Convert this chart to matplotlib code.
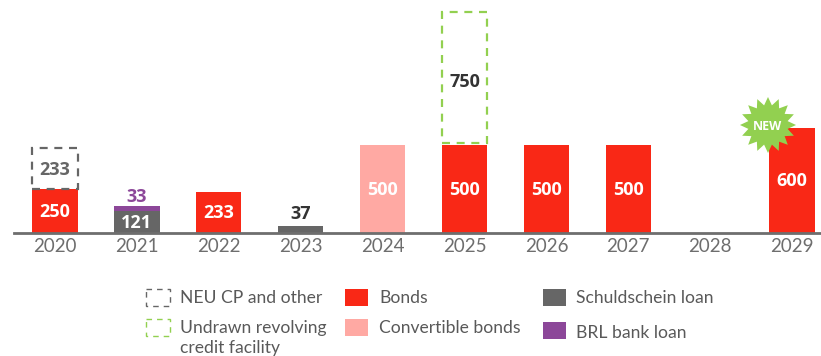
import matplotlib
matplotlib.use("Agg")
import matplotlib.pyplot as plt
import matplotlib.patches as patches
import numpy as np

plt.rcParams['font.family'] = ['Lato', 'DejaVu Sans']

years = ['2020', '2021', '2022', '2023', '2024', '2025', '2026', '2027', '2028', '2029']
bonds = [250, 0, 233, 0, 0, 500, 500, 500, 0, 600]
convertible = [0, 0, 0, 0, 500, 0, 0, 0, 0, 0]
schuldschein = [0, 121, 0, 37, 0, 0, 0, 0, 0, 0]
brl_loan = [0, 33, 0, 0, 0, 0, 0, 0, 0, 0]
neu_cp = [233, 0, 0, 0, 0, 0, 0, 0, 0, 0]
undrawn_rcf = [0, 0, 0, 0, 0, 750, 0, 0, 0, 0]

RED = '#F92816'
PINK = '#FFA9A3'
GRAY = '#666666'
PURPLE = '#8C4799'
GREEN = '#92D050'
DARK = '#333333'
TICK = '#6E6E6E'
LEGEND_TEXT = '#595959'

W, H = 821, 356
BASE = 232.5
VALUE_SIZE = 13

fig = plt.figure(figsize=(W / 100, H / 100), dpi=100)
ax = fig.add_axes([14 / W, 1 - BASE / H, 1 - 14 / W, BASE / H])
ax.set_xlim(-0.5, 9.353)
ax.set_ylim(0, BASE / 0.175)

x = np.arange(len(years))
bw = 0.555
bonds_a = np.array(bonds)
conv_a = np.array(convertible)
sch_a = np.array(schuldschein)
brl_a = np.array(brl_loan)
neu_a = np.array(neu_cp)
rcf_a = np.array(undrawn_rcf)

ax.bar(x, bonds_a, bw, color=RED)
ax.bar(x, conv_a, bw, color=PINK)
ax.bar(x, sch_a, bw, color=GRAY)
ax.bar(x, brl_a, bw, bottom=sch_a, color=PURPLE)

def value(xpos, ypos, val, color):
    ax.text(xpos, ypos, str(val), color=color, fontsize=VALUE_SIZE, family='Open Sans',
            fontweight='bold', ha='center', va='center')

# undrawn amounts are dashed outlines sitting on top of the bonds
dash = (0, (3.6, 3.0))
for i in np.nonzero(neu_a)[0]:
    ax.add_patch(patches.Rectangle((x[i] - bw / 2, bonds_a[i]), bw, neu_a[i], fill=False,
                                   ec=GRAY, lw=1.6, ls=dash))
    value(x[i], bonds_a[i] + neu_a[i] / 2 - 12, neu_a[i], GRAY)
for i in np.nonzero(rcf_a)[0]:
    ax.add_patch(patches.Rectangle((x[i] - bw / 2, bonds_a[i] + 10), bw, rcf_a[i], fill=False,
                                   ec=GREEN, lw=1.6, ls=dash))
    value(x[i], bonds_a[i] + 10 + rcf_a[i] / 2 - 25, rcf_a[i], DARK)

for i in range(len(years)):
    if bonds_a[i]:
        value(x[i], bonds_a[i] / 2 - 6, bonds_a[i], 'white')
    if conv_a[i]:
        value(x[i], conv_a[i] / 2 - 6, conv_a[i], 'white')

value(x[1], sch_a[1] / 2 - 5, sch_a[1], 'white')
value(x[1], sch_a[1] + brl_a[1] + 50, brl_a[1], PURPLE)
value(x[3], sch_a[3] + 70, sch_a[3], DARK)

for s in ['top', 'left', 'right']:
    ax.spines[s].set_visible(False)
ax.spines['bottom'].set_color(TICK)
ax.spines['bottom'].set_linewidth(2)
ax.set_yticks([])
ax.set_xticks(x)
ax.set_xticklabels(years, fontsize=13.5, color=TICK)
ax.tick_params(axis='x', length=0, pad=4)

# overlay in pixel units for the badge and the legend
ov = fig.add_axes([0, 0, 1, 1], zorder=5)
ov.set_xlim(0, W)
ov.set_ylim(H, 0)
ov.axis('off')

n_spikes = 16
ang = np.linspace(0, 2 * np.pi, 2 * n_spikes, endpoint=False) - np.pi / 2
rad = np.where(np.arange(2 * n_spikes) % 2 == 0, 28, 20)
ov.add_patch(patches.Polygon(np.c_[768 + rad * np.cos(ang), 125 + rad * np.sin(ang)],
                             closed=True, fc=GREEN, ec='none'))
ov.text(768, 126, 'NEW', color='white', fontsize=9, family='Open Sans', fontweight='bold',
        ha='center', va='center')

def box(x0, y0, x1, y1, fc=None, ec=None):
    if fc:
        ov.add_patch(patches.Rectangle((x0, y0), x1 - x0, y1 - y0, fc=fc, ec='none'))
    else:
        ov.add_patch(patches.Rectangle((x0, y0), x1 - x0, y1 - y0, fill=False, ec=ec, lw=1.0,
                                       ls=(0, (4.0, 3.6))))

def label(x0, y0, s):
    ov.text(x0, y0, s, color=LEGEND_TEXT, fontsize=12.6, ha='left', va='center')

box(146, 289, 170, 306, ec=GRAY)
box(146, 319, 170, 336, ec=GREEN)
box(345, 289, 368, 306, fc=RED)
box(345, 319, 368, 336, fc=PINK)
box(543, 289, 566, 306, fc=GRAY)
box(543, 322, 566, 339, fc=PURPLE)

label(180, 298, 'NEU CP and other')
label(180, 328, 'Undrawn revolving')
label(180, 348, 'credit facility')
label(379, 298, 'Bonds')
label(379, 328, 'Convertible bonds')
label(576, 298, 'Schuldschein loan')
label(576, 333, 'BRL bank loan')

fig.savefig('out.png', dpi=100)
